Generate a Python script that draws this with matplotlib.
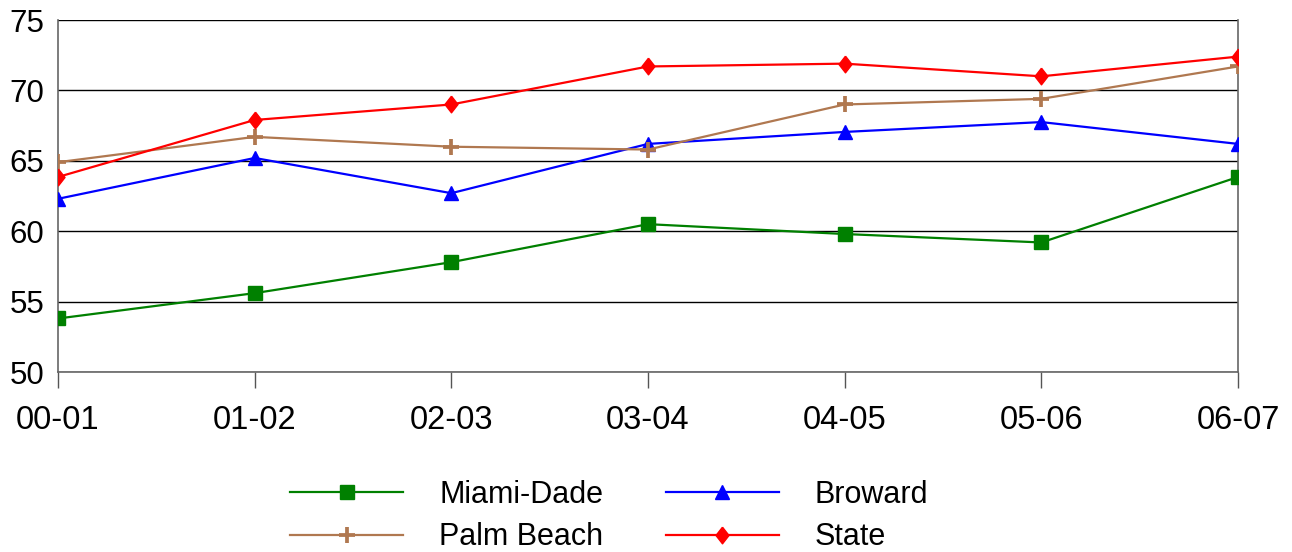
import matplotlib
matplotlib.use("Agg")
import matplotlib.pyplot as plt

categories = ["00-01", "01-02", "02-03", "03-04", "04-05", "05-06", "06-07"]
miami_dade = [53.8, 55.6, 57.8, 60.5, 59.8, 59.2, 63.85]
broward = [62.3, 65.2, 62.7, 66.2, 67.05, 67.75, 66.2]
palm_beach = [64.9, 66.7, 66.0, 65.8, 69.0, 69.4, 71.7]
state = [63.85, 67.9, 69.0, 71.7, 71.9, 71.0, 72.4]
yticks = [50, 55, 60, 65, 70, 75]

plt.rcParams['font.family'] = ['Liberation Sans', 'DejaVu Sans']

fig = plt.figure(figsize=(12.92, 5.52), dpi=100)
ax = fig.add_axes([58/1292, 1-372/552, (1238-58)/1292, (372-20)/552])

diamond = [(0, 1), (0.78, 0), (0, -1), (-0.78, 0), (0, 1)]
x = list(range(len(categories)))
l_md, = ax.plot(x, miami_dade, color='#008000', lw=1.6, marker='s', ms=10.5, label='Miami-Dade', zorder=3)
l_br, = ax.plot(x, broward, color='#0000ff', lw=1.6, marker='^', ms=10.5, label='Broward', zorder=3)
l_pb, = ax.plot(x, palm_beach, color='#b07850', lw=1.6, marker='+', ms=12, mew=2.7, label='Palm Beach', zorder=3)
l_st, = ax.plot(x, state, color='#ff0000', lw=1.6, marker=diamond, ms=12, label='State', zorder=3)

ax.set_xlim(0, len(categories)-1)
ax.set_ylim(50, 75)
ax.set_yticks(yticks)
ax.set_xticks(x)
ax.set_xticklabels(categories)
ax.tick_params(axis='y', length=0, pad=10, labelsize=22.5)
ax.tick_params(axis='x', length=11.5, width=1, color='#555555', direction='out', pad=12.5, labelsize=23.5)
ax.grid(axis='y', color='black', lw=1)
for s in ['left', 'right', 'bottom']:
    ax.spines[s].set_color('#666666')
    ax.spines[s].set_linewidth(1.2)
ax.spines['top'].set_visible(False)

handles = [l_md, l_pb, l_br, l_st]
labels = [h.get_label() for h in handles]
leg = fig.legend(handles, labels, ncol=2, loc='upper left',
                 bbox_to_anchor=(290/1292, 1-480/552), frameon=False,
                 fontsize=22, handlelength=3.7, handletextpad=1.18,
                 columnspacing=2.05, labelspacing=0.40, borderaxespad=0, borderpad=0)

fig.savefig("out.png", dpi=100)
